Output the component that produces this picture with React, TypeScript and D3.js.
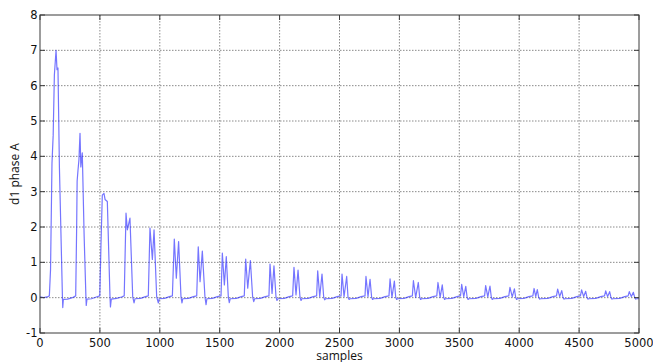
import React from "react";
import * as d3 from "d3";

const xTicks = [0, 500, 1000, 1500, 2000, 2500, 3000, 3500, 4000, 4500, 5000];
const yTicks = [-1, 0, 1, 2, 3, 4, 5, 6, 7, 8];
const xLabel = "samples";
const yLabel = "d1 phase A";

// [sample, d1 phase A] vertices
const d1PhaseA: [number, number][] = [
  [0, 0.02], [30, 0.0], [60, 0.02], [78, 0.05], [88, 0.8], [100, 3.8], [110, 4.6], [120, 6.3], [134, 7.0], [142, 6.45], [150, 6.5], [162, 3.7], [187, 0.05], [190, -0.28], [195, -0.05], [230, -0.04], [270, 0.0], [298, 0.05],
  [306, 2.0], [310, 3.3], [317, 3.6], [325, 3.9], [334, 4.65], [341, 3.7], [353, 4.1], [368, 1.8], [383, 0.05], [386, -0.22], [392, -0.04], [430, -0.03], [470, 0.02], [499, 0.05],
  [509, 1.5], [520, 2.9], [534, 2.95], [543, 2.78], [562, 2.72], [584, 0.05], [588, -0.26], [595, -0.04], [640, -0.02], [680, 0.02], [703, 0.05],
  [718, 2.39], [729, 1.92], [751, 2.25], [774, 0.02], [785, -0.15], [793, -0.03], [840, -0.02], [880, 0.03], [904, 0.05],
  [918, 1.97], [938, 1.08], [952, 1.92], [974, 0.02], [988, -0.15], [995, -0.03], [1040, -0.02], [1080, 0.03], [1105, 0.05],
  [1121, 1.66], [1138, 0.55], [1157, 1.59], [1177, 0.02], [1185, -0.15], [1192, -0.03], [1240, -0.02], [1280, 0.03], [1308, 0.05],
  [1321, 1.44], [1336, 0.45], [1355, 1.32], [1377, 0.02], [1386, -0.2], [1393, -0.03], [1440, -0.02], [1480, 0.03], [1511, 0.05],
  [1522, 1.26], [1539, 0.36], [1555, 1.16], [1572, 0.02], [1580, -0.14], [1588, -0.03], [1640, -0.02], [1680, 0.03], [1705, 0.05],
  [1717, 1.09], [1734, 0.27], [1756, 1.05], [1775, 0.02], [1784, -0.11], [1792, -0.03], [1840, -0.02], [1880, 0.03], [1911, 0.05],
  [1920, 0.95], [1937, 0.12], [1953, 0.9], [1970, 0.02], [1978, -0.08], [1986, -0.03], [2040, -0.02], [2080, 0.03], [2109, 0.05],
  [2120, 0.86], [2137, 0.08], [2154, 0.78], [2170, 0.02], [2179, -0.08], [2186, -0.03], [2240, -0.02], [2280, 0.03], [2309, 0.05],
  [2318, 0.76], [2335, 0.03], [2354, 0.67], [2368, 0.02], [2376, -0.06], [2384, -0.03], [2440, -0.02], [2480, 0.03], [2513, 0.05],
  [2521, 0.67], [2538, 0.03], [2560, 0.6], [2571, 0.02], [2580, -0.05], [2588, -0.03], [2640, -0.02], [2680, 0.03], [2713, 0.05],
  [2721, 0.6], [2738, 0.03], [2755, 0.52], [2768, 0.02], [2776, -0.05], [2784, -0.03], [2840, -0.02], [2880, 0.03], [2913, 0.05],
  [2922, 0.53], [2938, 0.01], [2958, 0.47], [2969, 0.02], [2977, -0.05], [2985, -0.03], [3040, -0.02], [3080, 0.03], [3108, 0.05],
  [3117, 0.48], [3136, 0.01], [3158, 0.43], [3169, 0.02], [3177, -0.05], [3185, -0.03], [3240, -0.02], [3280, 0.03], [3312, 0.05],
  [3322, 0.43], [3340, 0.01], [3358, 0.36], [3369, 0.02], [3377, -0.05], [3385, -0.03], [3440, -0.02], [3480, 0.03], [3510, 0.05],
  [3520, 0.38], [3537, 0.02], [3554, 0.32], [3565, 0.02], [3573, -0.05], [3581, -0.03], [3640, -0.02], [3680, 0.03], [3711, 0.05],
  [3720, 0.34], [3738, 0.02], [3756, 0.33], [3767, 0.02], [3775, -0.05], [3783, -0.03], [3840, -0.02], [3880, 0.03], [3913, 0.05],
  [3923, 0.29], [3942, 0.02], [3960, 0.25], [3970, 0.02], [3978, -0.05], [3986, -0.03], [4040, -0.02], [4080, 0.03], [4114, 0.05],
  [4124, 0.26], [4138, 0.03], [4151, 0.23], [4162, 0.02], [4170, -0.04], [4178, -0.03], [4240, -0.02], [4280, 0.03], [4311, 0.05],
  [4321, 0.24], [4338, 0.03], [4355, 0.2], [4365, 0.02], [4373, -0.04], [4381, -0.03], [4440, -0.02], [4480, 0.03], [4511, 0.05],
  [4521, 0.22], [4538, 0.03], [4555, 0.18], [4565, 0.02], [4573, -0.04], [4581, -0.03], [4640, -0.02], [4680, 0.03], [4712, 0.05],
  [4722, 0.19], [4738, 0.03], [4755, 0.17], [4765, 0.02], [4773, -0.04], [4781, -0.03], [4840, -0.02], [4880, 0.03], [4909, 0.05],
  [4919, 0.17], [4936, 0.03], [4953, 0.15], [4963, 0.02], [4971, -0.04], [4980, -0.03], [5000, -0.03],
];

const W = 653;
const H = 362;
const L = 40, R = 639, T = 15, B = 333;

export default function App() {
  const x = d3.scaleLinear().domain([0, 5000]).range([L, R]);
  const y = d3.scaleLinear().domain([-1, 8]).range([B, T]);
  const line = d3
    .line<[number, number]>()
    .x((d) => x(d[0]))
    .y((d) => y(d[1]));
  const axisColor = "#3a3a3a";
  const gridColor = "#8a8a8a";
  const tickFont = "DejaVu Sans, Verdana, sans-serif";
  const labelFont = "'Open Sans', 'Noto Sans', sans-serif";
  const tl = 5;
  return (
    <div style={{ position: "absolute", left: 0, top: 0 }}>
      <svg width={W} height={H} style={{ display: "block", background: "#fff" }}>
        <defs>
          <clipPath id="plotclip">
            <rect x={L} y={T} width={R - L} height={B - T} />
          </clipPath>
        </defs>
        <rect x={0} y={0} width={W} height={H} fill="#fff" />
        {xTicks.slice(1, -1).map((t) => (
          <line key={"gx" + t} x1={x(t)} x2={x(t)} y1={T} y2={B} stroke={gridColor} strokeWidth={1} strokeDasharray="1.5,1.5" />
        ))}
        {yTicks.slice(1, -1).map((t) => (
          <line key={"gy" + t} x1={L} x2={R} y1={y(t)} y2={y(t)} stroke={gridColor} strokeWidth={1} strokeDasharray="1.5,1.5" />
        ))}
        <path
          d={line(d1PhaseA) || ""}
          fill="none"
          stroke="#2020ff"
          strokeOpacity={0.62}
          strokeWidth={1.2}
          strokeLinejoin="round"
          clipPath="url(#plotclip)"
        />
        {xTicks.map((t) => (
          <g key={"tx" + t}>
            <line x1={x(t)} x2={x(t)} y1={B} y2={B - tl} stroke={axisColor} />
            <line x1={x(t)} x2={x(t)} y1={T} y2={T + tl} stroke={axisColor} />
            <text x={x(t)} y={346.5} textAnchor="middle" fontFamily={tickFont} fontSize={11.5} fill="#111">
              {t}
            </text>
          </g>
        ))}
        {yTicks.map((t) => (
          <g key={"ty" + t}>
            <line x1={L} x2={L + tl} y1={y(t)} y2={y(t)} stroke={axisColor} />
            <line x1={R} x2={R - tl} y1={y(t)} y2={y(t)} stroke={axisColor} />
            <text x={37.5} y={y(t) + 4} textAnchor="end" fontFamily={tickFont} fontSize={11.5} fill="#111">
              {t}
            </text>
          </g>
        ))}
        <rect x={L} y={T} width={R - L} height={B - T} fill="none" stroke={axisColor} strokeWidth={1} />
        <text x={(L + R) / 2} y={359.5} textAnchor="middle" fontFamily={labelFont} fontSize={12} fill="#111">
          {xLabel}
        </text>
        <text
          transform={`translate(19,${(T + B) / 2}) rotate(-90)`}
          textAnchor="middle"
          fontFamily={labelFont}
          fontSize={12}
          fill="#111"
        >
          {yLabel}
        </text>
      </svg>
    </div>
  );
}
